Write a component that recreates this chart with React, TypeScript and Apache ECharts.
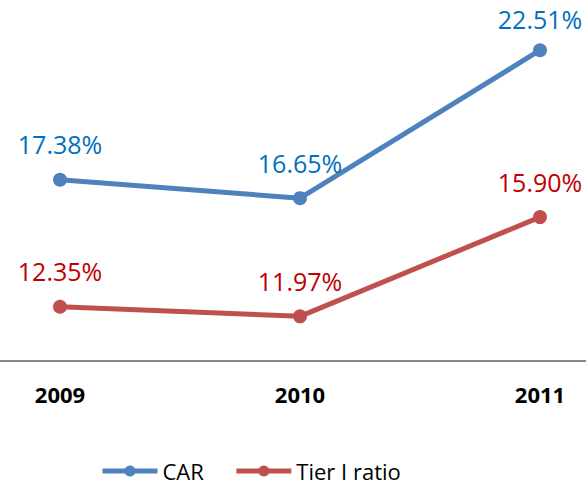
import React, { useEffect, useRef } from "react";
import * as echarts from "echarts";

const years = ["2009", "2010", "2011"];
const carValues = [17.38, 16.65, 22.51];
const tierValues = [12.35, 11.97, 15.9];

export default function App() {
  const ref = useRef<HTMLDivElement>(null);
  useEffect(() => {
    document.body.style.margin = "0";
    if (!ref.current) return;
    const chart = echarts.init(ref.current, null, { renderer: "svg" });
    const font = "'Open Sans', 'Noto Sans', sans-serif";
    const mk = (vals: number[], name: string, lineColor: string, labelColor: string) => ({
      name,
      type: "line",
      data: vals.map((v, i) =>
        i === 2 && name === "CAR" ? { value: v, label: { distance: 12 } } : v
      ),
      symbol: "circle",
      symbolSize: 14,
      lineStyle: { width: 5, color: lineColor },
      itemStyle: { color: lineColor },
      label: {
        show: true,
        position: "top",
        distance: 16,
        color: labelColor,
        fontSize: 25,
        fontFamily: font,
        formatter: (p: any) => Number(p.value).toFixed(2) + "%",
      },
    });
    chart.setOption({
      animation: false,
      backgroundColor: "#ffffff",
      grid: { left: 60, right: 46, top: 0, bottom: 128 },
      graphic: [
        {
          type: "line",
          shape: { x1: 0, y1: 361, x2: 586, y2: 361 },
          style: { stroke: "#888888", lineWidth: 2 },
          z: -1,
        },
      ],
      xAxis: {
        type: "category",
        data: years,
        boundaryGap: false,
        axisLine: { show: false },
        axisTick: { show: false },
        axisLabel: {
          color: "#000000",
          fontWeight: "bold",
          fontSize: 22,
          fontFamily: font,
          margin: 22,
        },
      },
      yAxis: {
        type: "value",
        min: 10.2,
        max: 24.5,
        show: false,
        splitLine: { show: false },
      },
      legend: {
        left: 95,
        top: 455,
        itemWidth: 55,
        itemHeight: 14,
        itemGap: 30,
        lineStyle: { width: 5 },
        textStyle: { color: "#000000", fontSize: 22, fontFamily: font },
        data: ["CAR", "Tier I ratio"],
      },
      series: [
        mk(carValues, "CAR", "#4F81BD", "#0070C0"),
        mk(tierValues, "Tier I ratio", "#C0504D", "#C00000"),
      ],
    });
    return () => chart.dispose();
  }, []);
  return <div ref={ref} style={{ width: 586, height: 489 }} />;
}
